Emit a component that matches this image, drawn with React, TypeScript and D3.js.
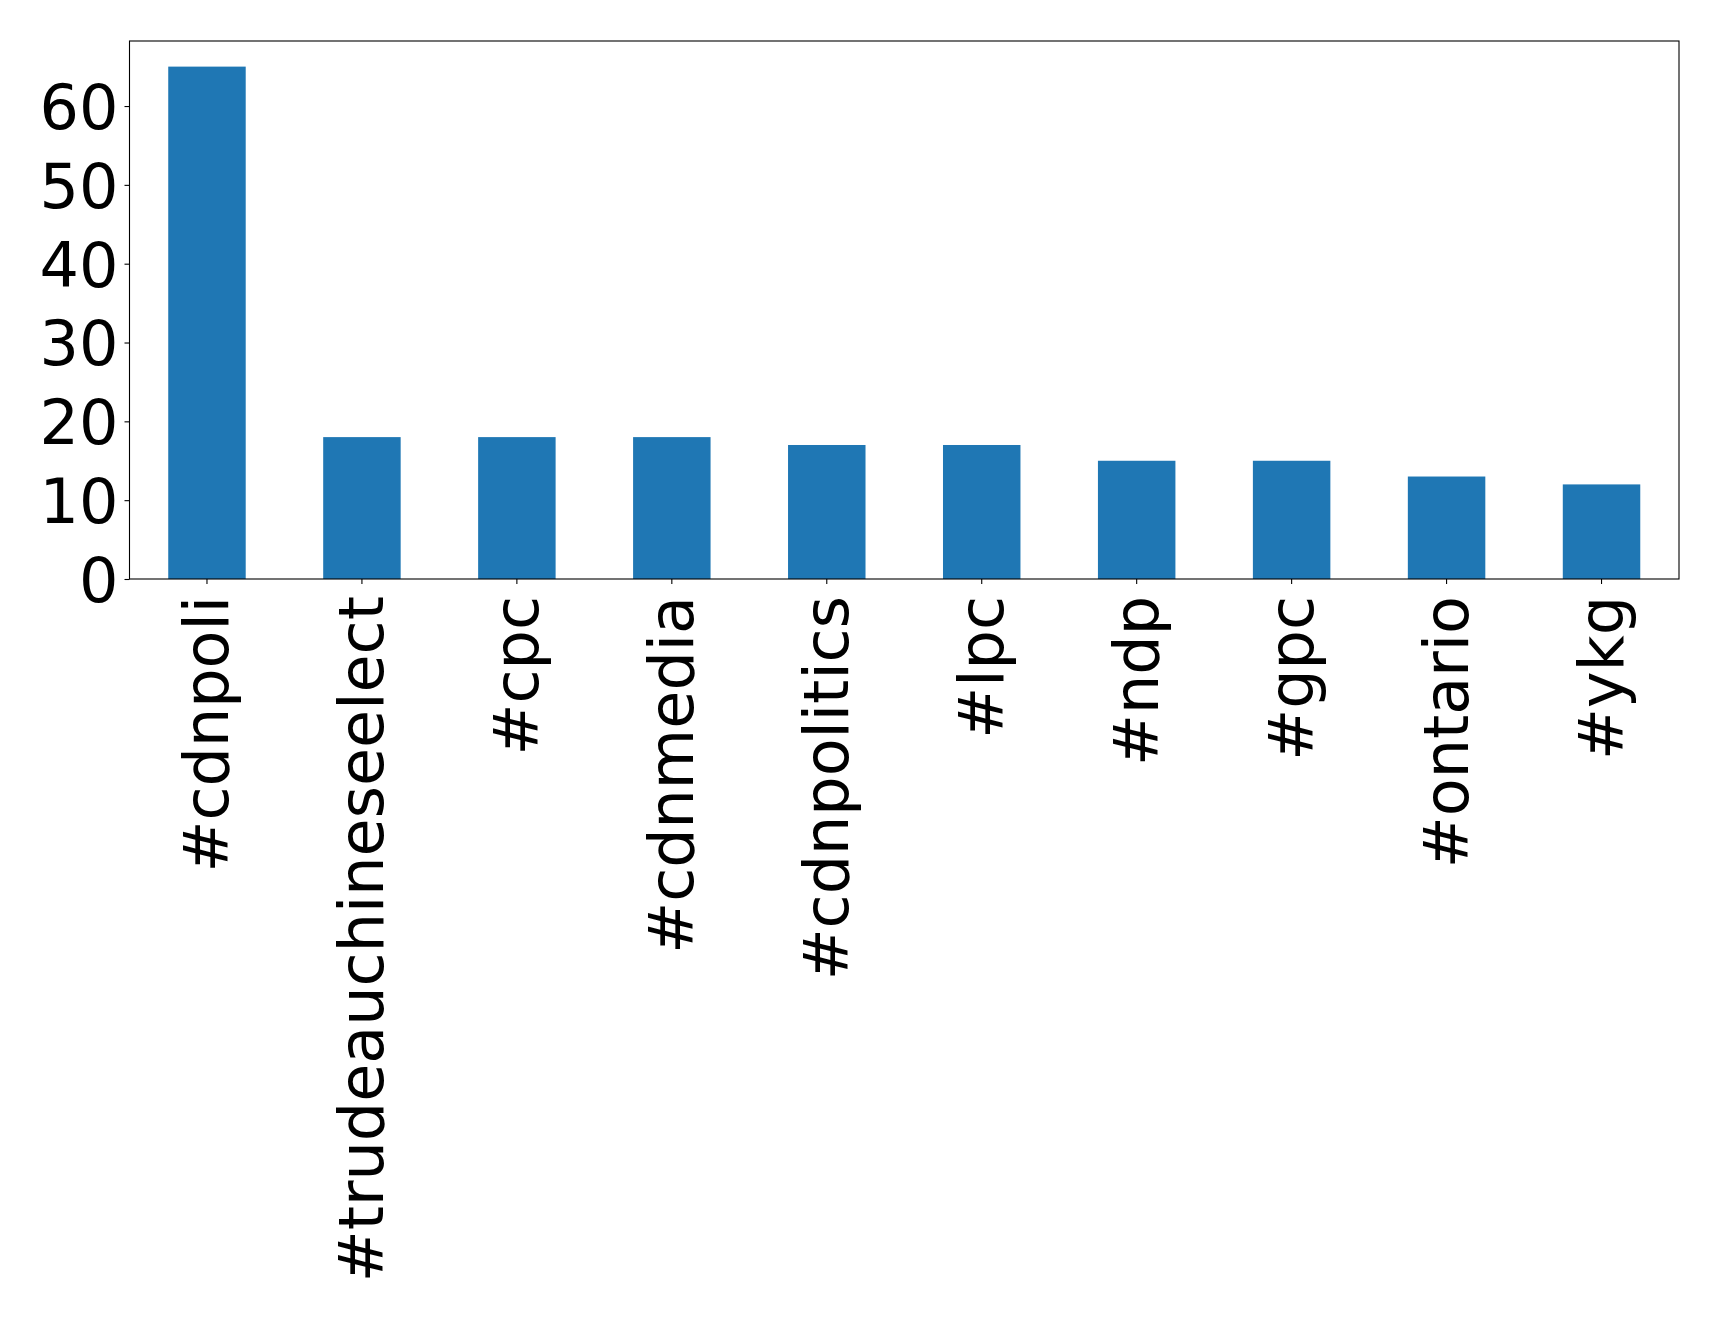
import * as d3 from "d3";
import React, { useEffect, useRef } from "react";

const hashtags = [
  "#cdnpoli",
  "#trudeauchineseelect",
  "#cpc",
  "#cdnmedia",
  "#cdnpolitics",
  "#lpc",
  "#ndp",
  "#gpc",
  "#ontario",
  "#ykg",
];
const counts = [65, 18, 18, 18, 17, 17, 15, 15, 13, 12];
const yTicks = [0, 10, 20, 30, 40, 50, 60];

const App: React.FC = () => {
  const width = 1719,
    height = 1320;
  const margin = { top: 41, right: 40, bottom: 741, left: 129.5 };
  const innerW = width - margin.left - margin.right;
  const innerH = height - margin.top - margin.bottom;

  // categorical axis like matplotlib: slots from -0.5 to n-0.5, bar width 0.5
  const x = d3
    .scaleBand()
    .domain(hashtags)
    .range([0, innerW])
    .paddingInner(0.5)
    .paddingOuter(0.25);

  const y = d3
    .scaleLinear()
    .domain([0, (d3.max(counts) as number) * 1.05])
    .range([innerH, 0]);

  const xAxisRef = useRef<SVGGElement | null>(null);
  const yAxisRef = useRef<SVGGElement | null>(null);

  useEffect(() => {
    if (!xAxisRef.current || !yAxisRef.current) return;

    const xa = d3.select(xAxisRef.current);
    xa.call(d3.axisBottom(x).tickSize(5).tickPadding(5).tickSizeOuter(0));
    xa.select(".domain").remove();
    xa.selectAll("line").attr("stroke", "#000").attr("stroke-width", 1.1);
    xa.selectAll("text")
      .attr("font-family", "DejaVu Sans")
      .attr("font-size", 62)
      .attr("fill", "#000")
      .attr("y", 0)
      .attr("dy", null)
      .attr("text-anchor", "end")
      .attr("dominant-baseline", "central")
      .attr("transform", "translate(0, 17) rotate(-90)");

    const ya = d3.select(yAxisRef.current);
    ya.call(
      d3.axisLeft(y).tickValues(yTicks).tickSize(5).tickPadding(6).tickSizeOuter(0)
    );
    ya.select(".domain").remove();
    ya.selectAll("line").attr("stroke", "#000").attr("stroke-width", 1.1);
    ya.selectAll("text")
      .attr("font-family", "DejaVu Sans")
      .attr("font-size", 62)
      .attr("fill", "#000")
      .attr("dy", "0.36em");
  }, []);

  return (
    <svg
      width={width}
      height={height}
      style={{ position: "absolute", left: 0, top: 0, background: "#fff" }}
    >
      <rect width={width} height={height} fill="#fff" />
      <g transform={`translate(${margin.left}, ${margin.top})`}>
        {hashtags.map((h, i) => (
          <rect
            key={h}
            x={x(h)}
            y={y(counts[i])}
            width={x.bandwidth()}
            height={innerH - y(counts[i])}
            fill="#1f77b4"
          />
        ))}
        <rect
          x={0}
          y={0}
          width={innerW}
          height={innerH}
          fill="none"
          stroke="#000"
          strokeWidth={1.1}
        />
        <g ref={xAxisRef} transform={`translate(0, ${innerH})`}></g>
        <g ref={yAxisRef}></g>
      </g>
    </svg>
  );
};

export default App;
